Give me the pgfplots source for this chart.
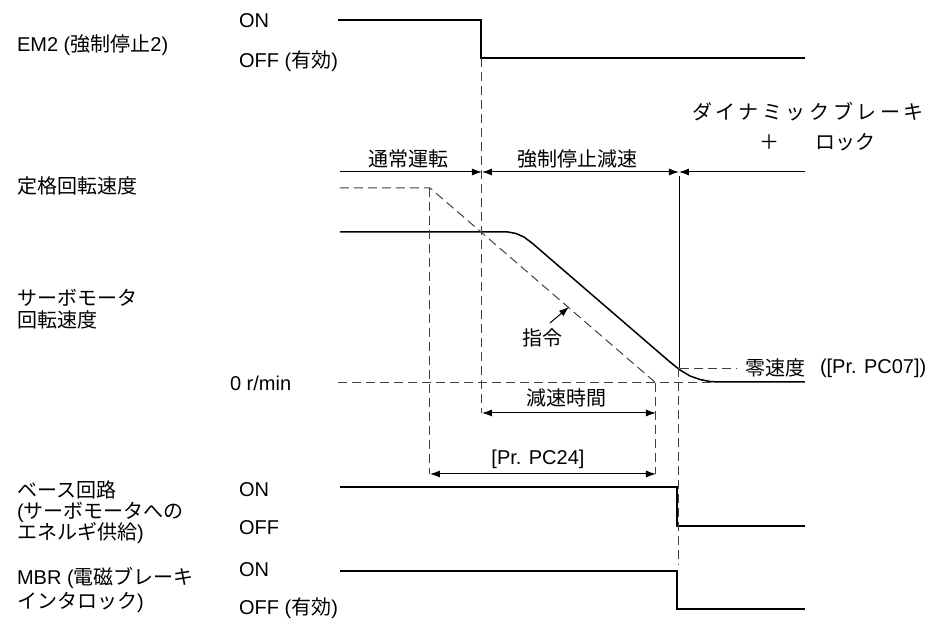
\documentclass[border=0pt]{standalone}
\usepackage{pgfplots}
\pgfplotsset{compat=1.18}
\usetikzlibrary{arrows.meta}
\usepackage{fontspec}
\setmainfont{Liberation Sans}
\newfontfamily\cjk{Noto Sans CJK JP}
\newfontfamily\cjkwide[LetterSpace=18]{Noto Sans CJK JP}

\begin{document}
\begin{tikzpicture}
\begin{axis}[
  x=0.5pt, y=0.5pt,
  xmin=0, xmax=933, ymin=0, ymax=619,
  y dir=reverse,
  hide axis, clip=false,
  every node/.style={font=\fontsize{10}{12}\selectfont, inner sep=0pt},
  sig/.style={black, line width=0.75pt},
  dsh/.style={black!75, line width=0.5pt, dash pattern=on 4.5pt off 2.5pt},
  tip/.style={black, line width=0.5pt},
]
% frame of the picture
\addplot[draw=none] coordinates {(0,0) (933,619)};

% EM2
\addplot[sig] coordinates {(338,20) (481,20) (481,58) (805,58)};
% base circuit
\addplot[sig] coordinates {(340,487) (677,487) (677,526) (805,526)};
% MBR
\addplot[sig] coordinates {(340,571) (677,571) (677,609) (805,609)};

% servo motor speed
\addplot[sig] coordinates {
  (340,232) (508,232) (516,233.5) (524,237) (532,243)
  (670,362) (680,370) (690,376) (700,379.5) (710,381.5) (718,382) (805,382)};
% command
\addplot[dsh] coordinates {(340,188) (430,188) (656,383)};
\addplot[dsh] coordinates {(430,188) (430,474)};
\addplot[dsh] coordinates {(656,383) (656,474)};
% 0 r/min level
\addplot[dsh] coordinates {(338,383) (718,383)};
% zero speed
\addplot[dsh] coordinates {(680,369) (737,369)};
% verticals
\addplot[dsh] coordinates {(482,58) (482,413)};
\addplot[black, line width=0.45pt] coordinates {(679,176) (679,368)};
\addplot[dsh] coordinates {(679,368) (679,565)};

% phase line
\addplot[tip, -{Latex[length=5pt,width=3.5pt]}] coordinates {(340,172) (482,172)};
\addplot[tip, {Latex[length=5pt,width=3.5pt]}-{Latex[length=5pt,width=3.5pt]}] coordinates {(482,172) (679,172)};
\addplot[tip, {Latex[length=5pt,width=3.5pt]}-] coordinates {(679,172) (805,172)};

% time arrows
\addplot[tip, {Latex[length=5pt,width=3.5pt]}-{Latex[length=5pt,width=3.5pt]}] coordinates {(482,413) (656,413)};
\addplot[tip, {Latex[length=5pt,width=3.5pt]}-{Latex[length=5pt,width=3.5pt]}] coordinates {(430,474) (656,474)};
% command pointer
\addplot[tip, -{Latex[length=5pt,width=3.5pt]}] coordinates {(550,323) (569,307)};

% left labels
\node[anchor=west] at (axis cs:10,45) {EM2 ({\cjk 強制停止}2)};
\node[anchor=west] at (axis cs:10,186) {\cjk 定格回転速度};
\node[anchor=west] at (axis cs:10,298) {\cjk サーボモータ};
\node[anchor=west] at (axis cs:10,320) {\cjk 回転速度};
\node[anchor=west] at (axis cs:10,490) {\cjk ベース回路};
\node[anchor=west] at (axis cs:10,512) {({\cjk サーボモータへの}};
\node[anchor=west] at (axis cs:10,533) {{\cjk エネルギ供給})};
\node[anchor=west] at (axis cs:10,578) {MBR ({\cjk 電磁ブレーキ}};
\node[anchor=west] at (axis cs:10,602) {{\cjk インタロック})};

% level labels
\node[anchor=west] at (axis cs:232,21) {ON};
\node[anchor=west] at (axis cs:232,61) {OFF ({\cjk 有効})};
\node[anchor=west] at (axis cs:223,383) {0 r/min};
\node[anchor=west] at (axis cs:232,490) {ON};
\node[anchor=west] at (axis cs:232,528) {OFF};
\node[anchor=west] at (axis cs:232,570) {ON};
\node[anchor=west] at (axis cs:232,608) {OFF ({\cjk 有効})};

% annotations
\node at (axis cs:409,159) {\cjk 通常運転};
\node at (axis cs:578,159) {\cjk 強制停止減速};
\node[anchor=west] at (axis cs:685,112) {\cjkwide ダイナミックブレーキ};
\node at (axis cs:770,142) {\cjk ＋};
\node[anchor=west] at (axis cs:808,142) {\cjk ロック};
\node at (axis cs:543,338) {\cjk 指令};
\node at (axis cs:567,398) {\cjk 減速時間};
\node at (axis cs:538,459) {[Pr. PC24]};
\node[anchor=west] at (axis cs:738,368) {\cjk 零速度};
\node[anchor=west] at (axis cs:813,368) {([Pr. PC07])};
\end{axis}
\end{tikzpicture}
\end{document}
